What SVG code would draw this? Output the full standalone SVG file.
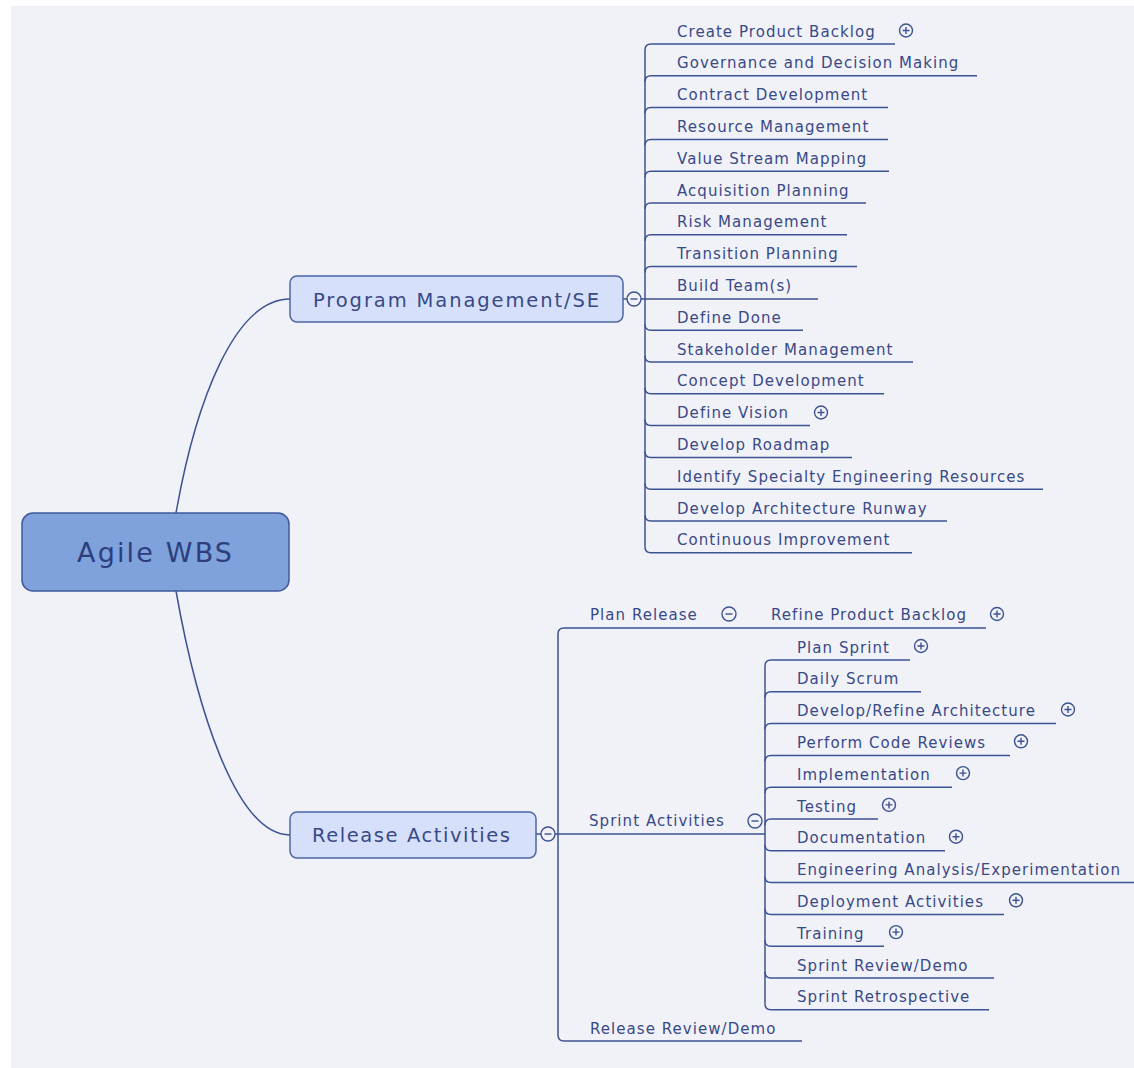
<svg xmlns="http://www.w3.org/2000/svg" width="1134" height="1068" viewBox="0 0 1134 1068">
<style>
.bg{fill:#f1f2f8}
.ln{fill:none;stroke:#3d5391;stroke-width:1.5}
.t{font-family:"DejaVu Sans",Verdana,sans-serif;font-size:15px;letter-spacing:1.05px;fill:#394987}
.big{font-family:"DejaVu Sans",Verdana,sans-serif;font-size:19.5px;fill:#394987}
.root{fill:#7fa1dc;stroke:#40599a;stroke-width:1.5}
.topic{fill:#d6e0fa;stroke:#4d66a6;stroke-width:1.5}
.btn{fill:#f1f2f8;stroke:#3d5391;stroke-width:1.4}
</style>
<defs>
<g id="plus"><circle class="btn" r="6.5"/><path d="M-3.5,0H3.5M0,-3.5V3.5" stroke="#3d5391" stroke-width="1.4"/></g>
<g id="minus"><circle class="btn" r="7"/><path d="M-3.5,0H3.5" stroke="#3d5391" stroke-width="1.4"/></g>
</defs>
<rect x="0" y="0" width="1134" height="1068" fill="#ffffff"/>
<rect class="bg" x="11" y="6" width="1123" height="1062"/>

<g id="connectors">
<path class="ln" d="M176,513 C196,400 235,299 290,299"/>
<path class="ln" d="M176,591 C196,704 235,835 290,835"/>
<path class="ln" d="M623,299 H627 M641,299 H645"/>
<path class="ln" d="M645,50 V546.8"/>
<path class="ln" d="M645,50 Q645,44 651,44 H895"/>
<path class="ln" d="M645,81.8 Q645,75.8 651,75.8 H977"/>
<path class="ln" d="M645,113.6 Q645,107.6 651,107.6 H888"/>
<path class="ln" d="M645,145.4 Q645,139.4 651,139.4 H888"/>
<path class="ln" d="M645,177.2 Q645,171.2 651,171.2 H889"/>
<path class="ln" d="M645,209 Q645,203 651,203 H866"/>
<path class="ln" d="M645,240.8 Q645,234.8 651,234.8 H847"/>
<path class="ln" d="M645,272.6 Q645,266.6 651,266.6 H857"/>
<path class="ln" d="M645,299 H818"/>
<path class="ln" d="M645,324.2 Q645,330.2 651,330.2 H803"/>
<path class="ln" d="M645,356 Q645,362 651,362 H913"/>
<path class="ln" d="M645,387.8 Q645,393.8 651,393.8 H884"/>
<path class="ln" d="M645,419.6 Q645,425.6 651,425.6 H810"/>
<path class="ln" d="M645,451.4 Q645,457.4 651,457.4 H852"/>
<path class="ln" d="M645,483.2 Q645,489.2 651,489.2 H1043"/>
<path class="ln" d="M645,515 Q645,521 651,521 H947"/>
<path class="ln" d="M645,546.8 Q645,552.8 651,552.8 H912"/>

<path class="ln" d="M536,834 H541 M555,834 H765"/>
<path class="ln" d="M558,634 V1035"/>
<path class="ln" d="M558,634 Q558,628 564,628 H986"/>
<path class="ln" d="M558,1035 Q558,1041 564,1041 H802"/>

<path class="ln" d="M765,666 V1003.8"/>
<path class="ln" d="M765,666 Q765,660 771,660 H910"/>
<path class="ln" d="M765,697.8 Q765,691.8 771,691.8 H921"/>
<path class="ln" d="M765,729.6 Q765,723.6 771,723.6 H1056"/>
<path class="ln" d="M765,761.4 Q765,755.4 771,755.4 H1010"/>
<path class="ln" d="M765,793.2 Q765,787.2 771,787.2 H952"/>
<path class="ln" d="M765,825 Q765,819 771,819 H878"/>
<path class="ln" d="M765,844.8 Q765,850.8 771,850.8 H945"/>
<path class="ln" d="M765,876.6 Q765,882.6 771,882.6 H1134"/>
<path class="ln" d="M765,908.4 Q765,914.4 771,914.4 H1004"/>
<path class="ln" d="M765,940.2 Q765,946.2 771,946.2 H884"/>
<path class="ln" d="M765,972 Q765,978 771,978 H994"/>
<path class="ln" d="M765,1003.8 Q765,1009.8 771,1009.8 H989"/>
</g>

<g id="root">
<rect class="root" x="22" y="513" width="267" height="78" rx="11"/>
<text x="77" y="562" font-family="DejaVu Sans,Verdana,sans-serif" font-size="27" fill="#2c3f7c" textLength="155" lengthAdjust="spacing">Agile WBS</text>
</g>

<g id="program-management">
<rect class="topic" x="290" y="276" width="333" height="46" rx="7"/>
<text class="big" x="313" y="306.5" textLength="286" lengthAdjust="spacing">Program Management/SE</text>
<use href="#minus" x="634" y="299"/>
</g>

<g id="release-activities">
<rect class="topic" x="290" y="812" width="246" height="46" rx="7"/>
<text class="big" x="312" y="842.3" textLength="198" lengthAdjust="spacing">Release Activities</text>
<use href="#minus" x="548" y="834"/>
</g>

<g id="pm-children">
<g id="create-product-backlog"><text class="t" x="677" y="36.5">Create Product Backlog</text><use href="#plus" x="906" y="30.5"/></g>
<g id="governance"><text class="t" x="677" y="68.3">Governance and Decision Making</text></g>
<g id="contract-development"><text class="t" x="677" y="100.1">Contract Development</text></g>
<g id="resource-management"><text class="t" x="677" y="131.9">Resource Management</text></g>
<g id="value-stream-mapping"><text class="t" x="677" y="163.7">Value Stream Mapping</text></g>
<g id="acquisition-planning"><text class="t" x="677" y="195.5">Acquisition Planning</text></g>
<g id="risk-management"><text class="t" x="677" y="227.3">Risk Management</text></g>
<g id="transition-planning"><text class="t" x="677" y="259.1">Transition Planning</text></g>
<g id="build-teams"><text class="t" x="677" y="290.9">Build Team(s)</text></g>
<g id="define-done"><text class="t" x="677" y="322.7">Define Done</text></g>
<g id="stakeholder-management"><text class="t" x="677" y="354.5">Stakeholder Management</text></g>
<g id="concept-development"><text class="t" x="677" y="386.3">Concept Development</text></g>
<g id="define-vision"><text class="t" x="677" y="418.1">Define Vision</text><use href="#plus" x="821" y="412.5"/></g>
<g id="develop-roadmap"><text class="t" x="677" y="449.9">Develop Roadmap</text></g>
<g id="identify-specialty"><text class="t" x="677" y="481.7">Identify Specialty Engineering Resources</text></g>
<g id="develop-architecture-runway"><text class="t" x="677" y="513.5">Develop Architecture Runway</text></g>
<g id="continuous-improvement"><text class="t" x="677" y="545.3">Continuous Improvement</text></g>
</g>

<g id="ra-children">
<g id="plan-release"><text class="t" x="590" y="619.5">Plan Release</text><use href="#minus" x="729" y="614"/></g>
<g id="refine-product-backlog"><text class="t" x="771" y="619.5">Refine Product Backlog</text><use href="#plus" x="997" y="614"/></g>
<g id="sprint-activities"><text class="t" x="589" y="826">Sprint Activities</text><use href="#minus" x="755" y="821"/></g>
<g id="release-review-demo"><text class="t" x="590" y="1033.5">Release Review/Demo</text></g>
</g>

<g id="sprint-children">
<g id="plan-sprint"><text class="t" x="797" y="652.5">Plan Sprint</text><use href="#plus" x="921" y="646"/></g>
<g id="daily-scrum"><text class="t" x="797" y="684.3">Daily Scrum</text></g>
<g id="develop-refine-architecture"><text class="t" x="797" y="716.1">Develop/Refine Architecture</text><use href="#plus" x="1068" y="709.5"/></g>
<g id="perform-code-reviews"><text class="t" x="797" y="747.9">Perform Code Reviews</text><use href="#plus" x="1021" y="741.3"/></g>
<g id="implementation"><text class="t" x="797" y="779.7">Implementation</text><use href="#plus" x="963" y="773.1"/></g>
<g id="testing"><text class="t" x="797" y="811.5">Testing</text><use href="#plus" x="889" y="804.9"/></g>
<g id="documentation"><text class="t" x="797" y="843.3">Documentation</text><use href="#plus" x="956" y="836.7"/></g>
<g id="engineering-analysis"><text class="t" x="797" y="875.1">Engineering Analysis/Experimentation</text></g>
<g id="deployment-activities"><text class="t" x="797" y="906.9">Deployment Activities</text><use href="#plus" x="1016" y="900.3"/></g>
<g id="training"><text class="t" x="797" y="938.7">Training</text><use href="#plus" x="896" y="932.1"/></g>
<g id="sprint-review-demo"><text class="t" x="797" y="970.5">Sprint Review/Demo</text></g>
<g id="sprint-retrospective"><text class="t" x="797" y="1002.3">Sprint Retrospective</text></g>
</g>
</svg>
